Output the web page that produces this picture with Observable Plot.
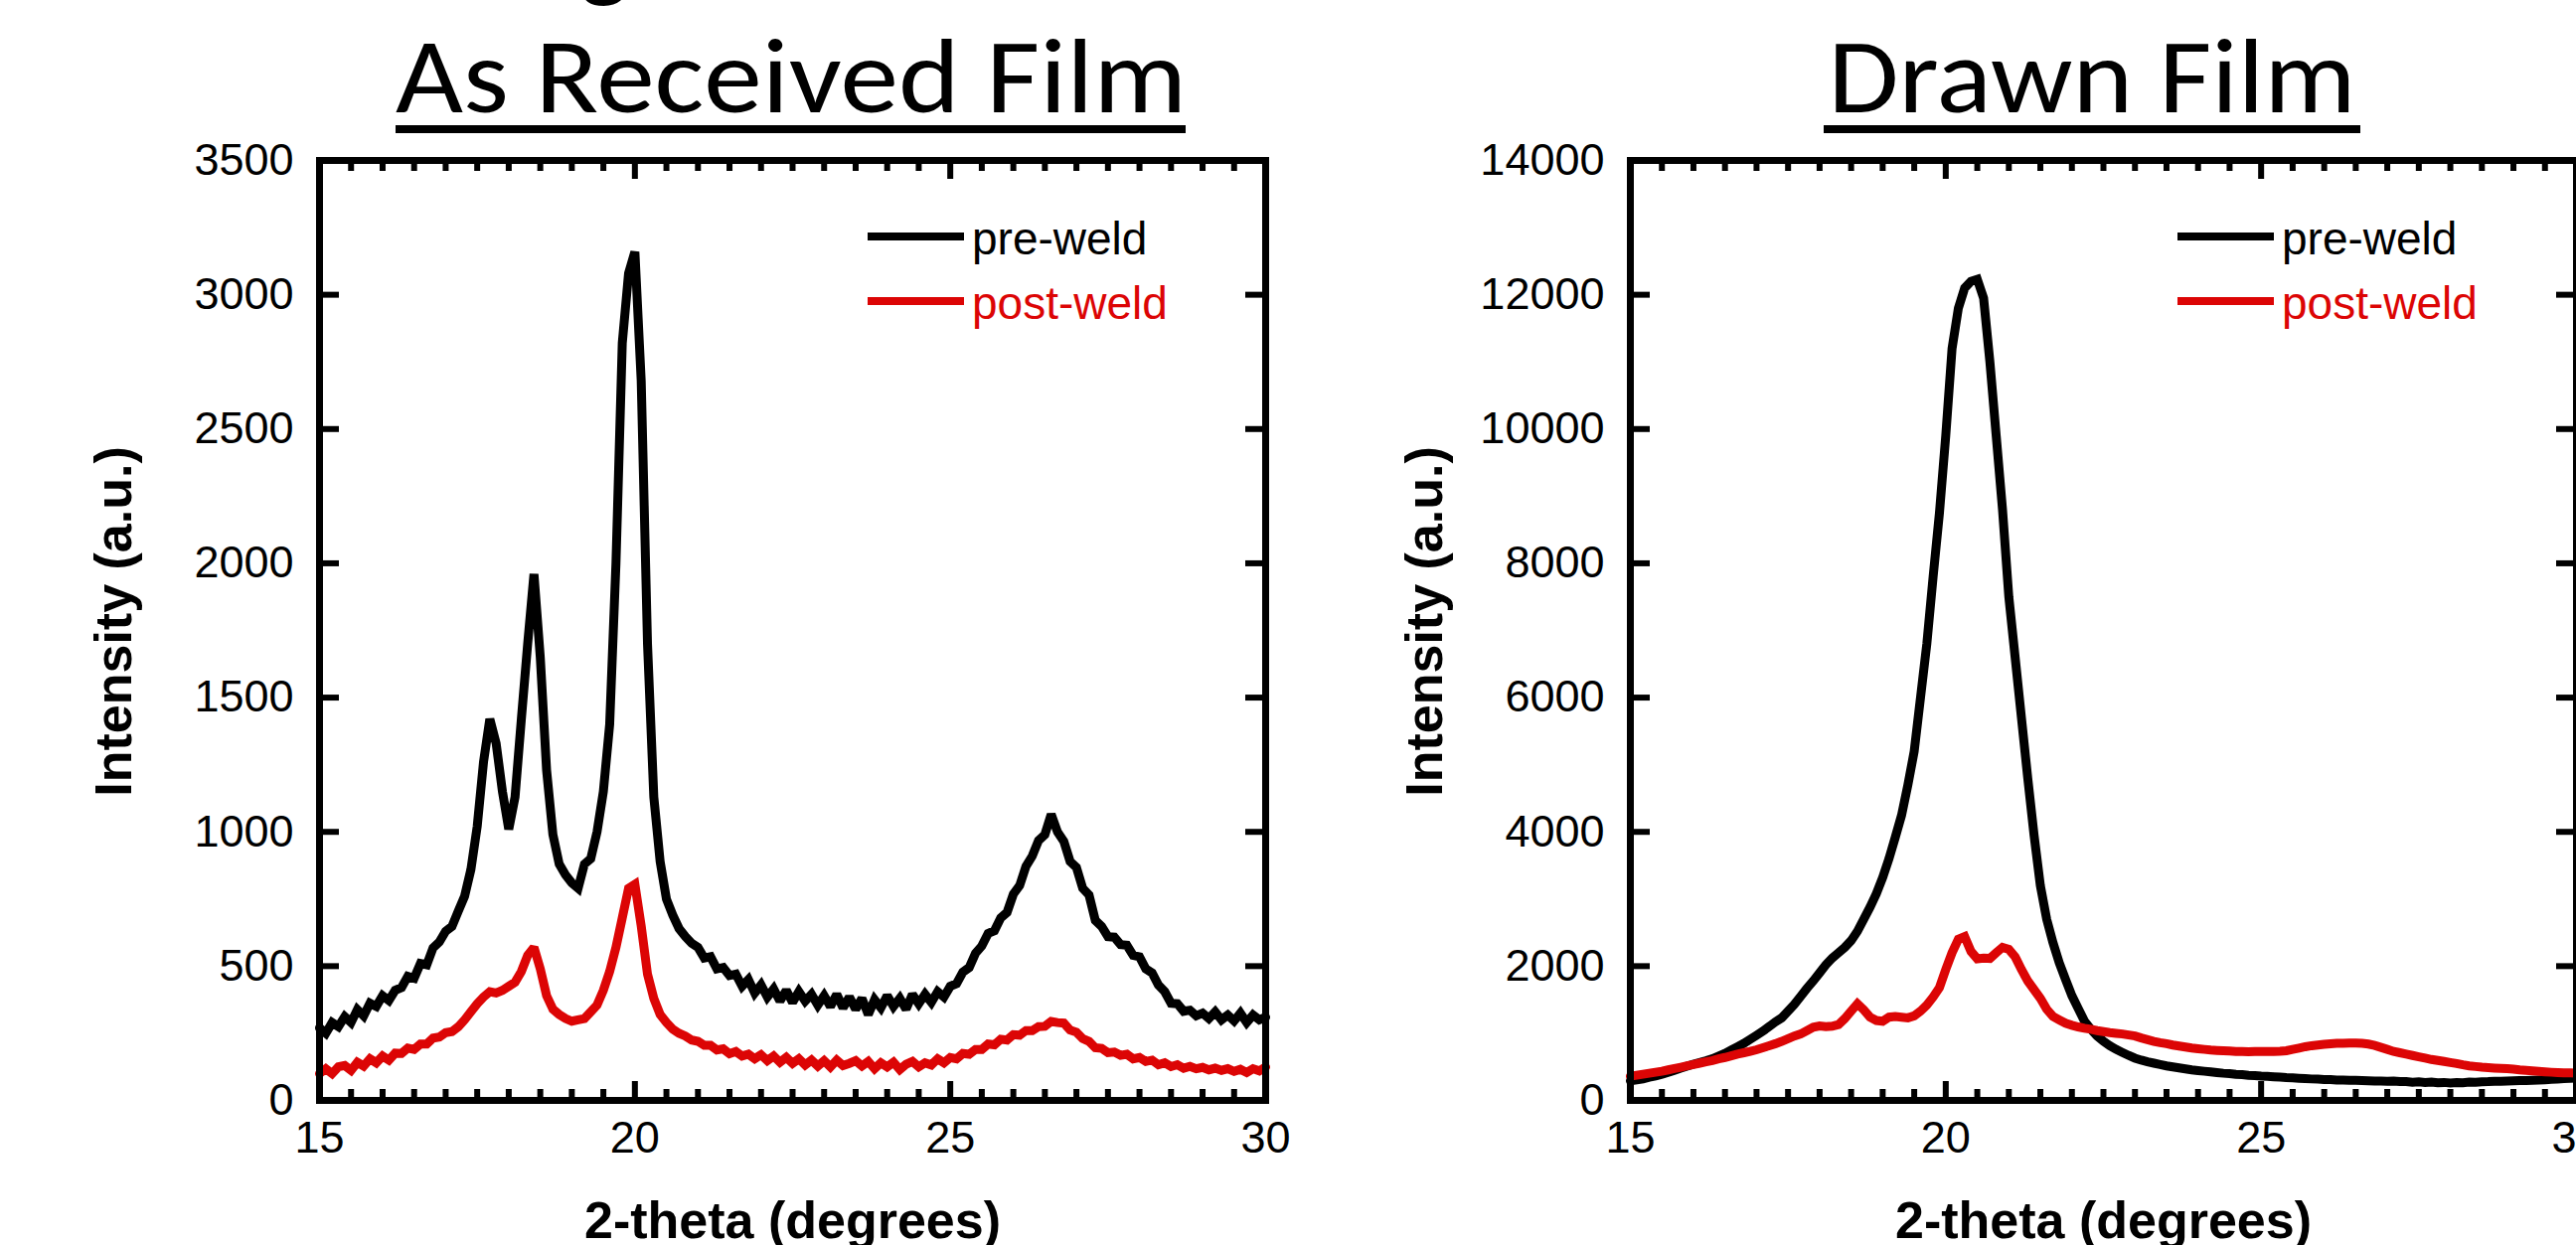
<!DOCTYPE html>
<html><head><meta charset="utf-8">
<script src="https://cdn.jsdelivr.net/npm/d3@7"></script>
<script src="https://cdn.jsdelivr.net/npm/@observablehq/plot@0.6"></script>
<style>
html,body{margin:0;padding:0;background:#fff;}
body{width:2592px;height:1253px;overflow:hidden;position:relative;}
.panel{position:absolute;top:0;width:1300px;height:1253px;}
.panel svg{max-width:none !important;width:1300px !important;height:1253px !important;display:block;}
#overlay{position:absolute;left:0;top:0;pointer-events:none;}
</style></head><body>
<div id="left" class="panel" style="left:0px"></div>
<div id="right" class="panel" style="left:1319px"></div>
<svg id="overlay" width="2592" height="1253" xmlns="http://www.w3.org/2000/svg"></svg>
<script>
// ---------- data ----------
const SCAN_START = 15.0, SCAN_STEP = 0.1;   // 2-theta scan grid (degrees)
const X_MAJOR = [15, 20, 25, 30];
const Y_TICKS_AS = [0, 500, 1000, 1500, 2000, 2500, 3000, 3500];
const Y_TICKS_DRAWN = [0, 2000, 4000, 6000, 8000, 10000, 12000, 14000];
const PANEL_TITLES = ["As Received Film", "Drawn Film"];
const SERIES_NAMES = ["pre-weld", "post-weld"];
const X_LABEL = "2-theta (degrees)";
const Y_LABEL = "Intensity (a.u.)";

// As received film
const AS_PRE = [
 270, 250, 290, 275, 312, 290, 338, 315, 362, 350,
 390, 372, 410, 420, 462, 455, 510, 505, 568, 590,
 630, 648, 705, 760, 860, 1020, 1260, 1420, 1330, 1150,
 1010, 1130, 1420, 1700, 1960, 1650, 1230, 990, 880, 840,
 810, 790, 880, 900, 1000, 1150, 1400, 2000, 2820, 3080,
 3160, 2680, 1700, 1130, 890, 750, 690, 640, 610, 585,
 570, 530, 535, 490, 495, 465, 470, 425, 450, 400,
 430, 385, 415, 370, 410, 365, 405, 370, 395, 355,
 390, 350, 395, 345, 385, 340, 380, 320, 375, 345,
 390, 350, 380, 340, 395, 360, 395, 365, 405, 385,
 425, 435, 478, 495, 548, 575, 622, 632, 680, 700,
 768, 800, 872, 910, 968, 990, 1065, 1000, 965, 890,
 868, 790, 765, 670, 648, 610, 608, 580, 578, 540,
 535, 490, 475, 430, 405, 362, 360, 332, 336, 315,
 325, 305, 330, 300, 318, 296, 325, 290, 318, 300,
 310];
const AS_POST = [
 100, 118, 100, 125, 130, 112, 142, 128, 155, 140,
 165, 150, 176, 175, 195, 190, 210, 210, 232, 236,
 252, 256, 274, 300, 330, 360, 385, 405, 400, 410,
 425, 440, 480, 540, 570, 490, 390, 340, 320, 305,
 295, 300, 305, 330, 355, 410, 480, 570, 680, 790,
 805, 650, 470, 380, 320, 290, 265, 250, 240, 225,
 220, 205, 205, 188, 192, 174, 182, 165, 172, 155,
 170, 148, 165, 142, 160, 138, 155, 132, 150, 128,
 148, 125, 150, 130, 138, 148, 128, 145, 118, 140,
 125, 142, 115, 135, 145, 125, 140, 132, 155, 140,
 160, 155, 175, 172, 190, 190, 210, 207, 228, 225,
 245, 243, 260, 260, 275, 276, 294, 290, 288, 262,
 254, 230, 220, 196, 194, 178, 180, 168, 172, 155,
 160, 145, 150, 133, 140, 126, 133, 120, 127, 118,
 123, 114, 120, 112, 118, 108, 116, 104, 118, 110,
 124];

// Drawn film
const DRAWN_PRE = [
 290, 305, 320, 345, 365, 390, 420, 450, 480, 510,
 540, 565, 590, 620, 660, 700, 750, 800, 850, 910,
 970, 1030, 1100, 1170, 1230, 1330, 1430, 1550, 1670, 1780,
 1900, 2020, 2120, 2200, 2280, 2380, 2520, 2700, 2880, 3080,
 3320, 3600, 3920, 4250, 4700, 5200, 6000, 6800, 7800, 8750,
 9900, 11200, 11800, 12100, 12200, 12230, 11950, 11000, 9900, 8800,
 7500, 6600, 5700, 4800, 3950, 3200, 2700, 2350, 2050, 1800,
 1560, 1370, 1180, 1060, 960, 880, 815, 760, 715, 670,
 630, 600, 575, 555, 535, 515, 500, 485, 470, 455,
 445, 435, 425, 415, 405, 400, 390, 385, 375, 370,
 362, 358, 352, 348, 340, 335, 330, 325, 320, 318,
 312, 310, 305, 302, 300, 298, 295, 292, 290, 288,
 285, 290, 280, 282, 272, 276, 268, 272, 262, 268,
 260, 266, 262, 272, 270, 278, 280, 285, 284, 290,
 292, 295, 296, 300, 305, 308, 315, 318, 325, 330,
 335];
const DRAWN_POST = [
 360, 375, 390, 405, 420, 435, 455, 475, 495, 515,
 535, 555, 575, 595, 620, 640, 665, 690, 710, 730,
 755, 785, 815, 845, 880, 920, 960, 990, 1040, 1090,
 1110, 1100, 1105, 1130, 1220, 1330, 1440, 1350, 1240, 1190,
 1180, 1240, 1250, 1240, 1230, 1260, 1330, 1420, 1540, 1680,
 1950, 2200, 2400, 2440, 2220, 2110, 2120, 2115, 2200, 2280,
 2250, 2140, 1950, 1780, 1650, 1520, 1360, 1250, 1200, 1150,
 1120, 1095, 1075, 1060, 1040, 1025, 1010, 1000, 990, 975,
 960, 930, 905, 880, 860, 845, 825, 810, 795, 780,
 770, 760, 750, 745, 740, 735, 730, 728, 725, 728,
 730, 728, 730, 732, 740, 760, 780, 800, 815, 825,
 835, 845, 850, 852, 855, 855, 850, 840, 820, 790,
 760, 730, 710, 690, 670, 650, 630, 610, 595, 580,
 565, 550, 530, 515, 505, 495, 488, 482, 478, 472,
 465, 455, 448, 440, 432, 425, 420, 415, 412, 410,
 408];

// ---------- styles ----------
const RED = "#dc0505";
const COLORS = ["#000000", RED];
const FONT = "'Liberation Sans', Arial, Helvetica, sans-serif";
const TITLE_FONT = "Carlito, Calibri, Lato, sans-serif";

const W = 1300, H = 1253;
const M = {left: 321, right: 27, top: 161, bottom: 146};
const innerW = W - M.left - M.right;   // 952
const innerH = H - M.top - M.bottom;   // 946

function rows(values) {
  return values.map((v, i) => ({t: +(SCAN_START + i * SCAN_STEP).toFixed(2), v}));
}

function panel(pre, post, yMax, yTicks) {
  const xMinor = d3.range(15.5, 30, 0.5).filter(d => !X_MAJOR.includes(d));
  const xMajorInner = X_MAJOR.slice(1, -1);
  const yInner = yTicks.slice(1, -1);
  return Plot.plot({
    width: W, height: H,
    marginLeft: M.left, marginRight: M.right, marginTop: M.top, marginBottom: M.bottom,
    x: {domain: [15, 30]},
    y: {domain: [0, yMax]},
    style: {fontFamily: FONT, fontSize: "45px", background: "transparent", overflow: "visible", color: "#000"},
    marks: [
      Plot.line(rows(pre), {x: "t", y: "v", stroke: COLORS[0], strokeWidth: 9, strokeLinejoin: "miter", strokeMiterlimit: 2}),
      Plot.line(rows(post), {x: "t", y: "v", stroke: COLORS[1], strokeWidth: 9, strokeLinejoin: "miter", strokeMiterlimit: 2}),
      // inward ticks
      Plot.ruleY(yInner, {insetRight: innerW - 20, strokeWidth: 6}),
      Plot.ruleY(yInner, {insetLeft: innerW - 20, strokeWidth: 6}),
      Plot.ruleX(xMinor, {insetTop: innerH - 11, strokeWidth: 6}),
      Plot.ruleX(xMinor, {insetBottom: innerH - 11, strokeWidth: 6}),
      Plot.ruleX(xMajorInner, {insetTop: innerH - 19, strokeWidth: 6}),
      Plot.ruleX(xMajorInner, {insetBottom: innerH - 19, strokeWidth: 6}),
      Plot.frame({strokeWidth: 7}),
      Plot.axisY({ticks: yTicks, tickSize: 0, tickPadding: 26, tickFormat: "d", label: null, fontSize: 45}),
      Plot.axisX({ticks: X_MAJOR, tickSize: 0, tickPadding: 21, tickFormat: "d", label: null, fontSize: 45}),
      Plot.text([Y_LABEL], {text: d => d, frameAnchor: "left", rotate: -90, dx: -206, dy: -9,
        fontSize: 52, fontWeight: "bold", textAnchor: "middle", lineAnchor: "middle"}),
      Plot.text([X_LABEL], {text: d => d, frameAnchor: "bottom", dy: 122,
        fontSize: 52, fontWeight: "bold", textAnchor: "middle", lineAnchor: "middle"})
    ]
  });
}

document.getElementById("left").append(panel(AS_PRE, AS_POST, 3500, Y_TICKS_AS));
document.getElementById("right").append(panel(DRAWN_PRE, DRAWN_POST, 14000, Y_TICKS_DRAWN));

// ---------- overlay: titles, legends ----------
const ov = d3.select("#overlay");
// cut-off slide heading glyph at top edge
ov.append("text").attr("x", 583).attr("y", -12).attr("font-family", TITLE_FONT)
  .attr("font-size", 106).attr("fill", "#000").text("g");

const titleSpecs = [
  {text: PANEL_TITLES[0], cx: 796, len: 796, ux: 398, uw: 795},
  {text: PANEL_TITLES[1], cx: 2105, len: 531, ux: 1835, uw: 540}
];
titleSpecs.forEach(s => {
  ov.append("text").attr("x", s.cx).attr("y", 113).attr("text-anchor", "middle")
    .attr("font-family", TITLE_FONT).attr("font-size", 106).attr("fill", "#000")
    .attr("textLength", s.len).attr("lengthAdjust", "spacingAndGlyphs").text(s.text);
  ov.append("rect").attr("x", s.ux).attr("y", 126).attr("width", s.uw).attr("height", 8).attr("fill", "#000");
});

const legendX = [873, 2191];
legendX.forEach(lx => {
  SERIES_NAMES.forEach((name, i) => {
    const yLine = 238 + i * 65;
    ov.append("line").attr("x1", lx).attr("x2", lx + 97).attr("y1", yLine).attr("y2", yLine)
      .attr("stroke", COLORS[i]).attr("stroke-width", 8);
    ov.append("text").attr("x", lx + 105).attr("y", yLine + 18).attr("font-family", FONT)
      .attr("font-size", 46).attr("fill", COLORS[i]).text(name);
  });
});
</script></body></html>
